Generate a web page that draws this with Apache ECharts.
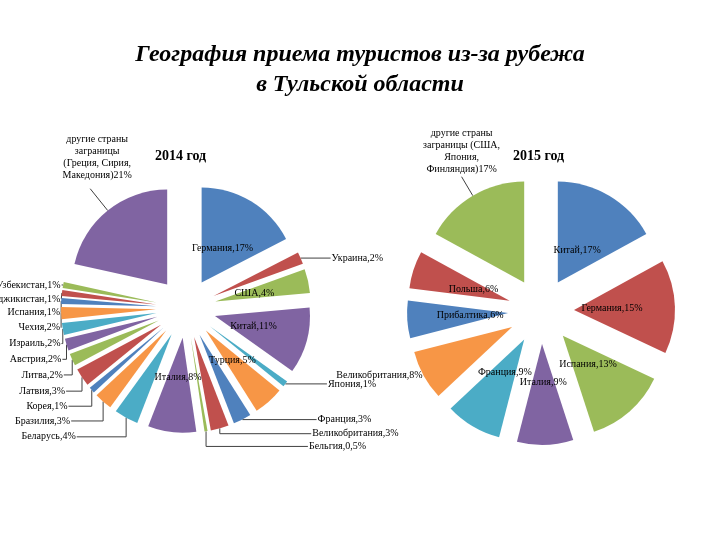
<!DOCTYPE html>
<html><head><meta charset="utf-8">
<script src="https://cdn.jsdelivr.net/npm/echarts@6/dist/echarts.min.js"></script>
<style>html,body{margin:0;padding:0;background:#fff}#c{width:720px;height:540px}</style>
</head><body><div id="c"></div>
<script>
// 2014 data (clockwise from 12 o'clock)
const names2014 = ['Германия','Украина','США','Китай','Япония','Турция','Франция','Великобритания','Бельгия','Италия','Беларусь','Бразилия','Корея','Латвия','Литва','Австрия','Израиль','Чехия','Испания','Таджикистан','Узбекистан','другие страны\nзаграницы\n(Греция, Сирия,\nМакедония)'];
const values2014 = [17, 2, 4, 11, 1, 5, 3, 3, 0.5, 8, 4, 3, 1, 3, 2, 2, 2, 2, 1, 1, 1, 21];
const inside2014 = ['Германия','США','Китай','Турция','Италия'];
// 2015 data
const names2015 = ['Китай','Германия','Испания','Италия','Франция','Великобритания','Прибалтика','Польша','другие страны\nзаграницы (США,\nЯпония,\nФинляндия)'];
const values2015 = [17, 15, 13, 9, 9, 8, 6, 6, 17];
const inside2015 = ['Китай','Германия','Испания','Италия','Франция','Прибалтика','Польша'];

const palette = ['#4F81BD','#C0504D','#9BBB59','#8064A2','#4BACC6','#F79646'];
const serif = '"Liberation Serif","Times New Roman",serif';

function fmt(p){ return p.name + (p.name.endsWith(')') ? '' : ',') + String(p.value).replace('.', ',') + '%'; }

const labelBase = { formatter: fmt, fontFamily: serif, fontSize: 10, color: '#000', lineHeight: 12, overflow: 'none' };

function isOther(n){ return n.endsWith(')'); }

// visible slices with outside labels only
function buildMain(names, values, inside, longLine, otherLen){
  return names.map((n, i) => {
    const inner = inside.includes(n);
    return {
      name: n, value: values[i], selected: true,
      itemStyle: { color: palette[i % palette.length] },
      label: isOther(n) ? { show: true, alignTo: 'none', lineHeight: 12 } : { show: !inner },
      labelLine: isOther(n) ? { show: true, length: otherLen, length2: 0 }
                            : { show: !inner, length2: longLine.includes(n) ? 30 : 0 }
    };
  });
}
// transparent copy used only to place the inside labels nearer to the slice tips
function buildGhost(names, values, inside){
  return names.map((n, i) => ({
    name: n, value: values[i], selected: true,
    itemStyle: { color: 'rgba(0,0,0,0)' },
    label: { show: inside.includes(n) }
  }));
}

function layoutFor(lastIndex, shift){
  return function(p){
    if (p.dataIndex === lastIndex) {
      return { dx: shift[0], dy: shift[1], align: 'center', hideOverlap: false };
    }
    return { hideOverlap: false };
  };
}

const common = {
  type: 'pie', startAngle: 90, clockwise: true, selectedMode: 'multiple',
  animation: false, silent: true,
  select: { itemStyle: { borderWidth: 0 } },
  emphasis: { disabled: true },
  itemStyle: { borderWidth: 0 }
};
function mainSeries(center, radius, offset, names, values, inside, longLine, otherLen, shift){
  return Object.assign({}, common, {
    center: center, radius: radius, selectedOffset: offset,
    label: Object.assign({}, labelBase, { position: 'outer', alignTo: 'labelLine', distanceToLabelLine: 1, lineHeight: 8, margin: -5 }),
    labelLine: { length: 0, length2: 0, lineStyle: { color: '#404040', width: 1 } },
    labelLayout: layoutFor(names.length - 1, shift),
    data: buildMain(names, values, inside, longLine, otherLen)
  });
}
function ghostSeries(center, radius, offset, names, values, inside){
  return Object.assign({}, common, {
    center: center, radius: radius, selectedOffset: offset, z: 3,
    label: Object.assign({ position: 'inside' }, labelBase),
    labelLine: { show: false },
    labelLayout: { hideOverlap: false },
    data: buildGhost(names, values, inside)
  });
}

const chart = echarts.init(document.getElementById('c'), null, {renderer:'canvas'});
chart.setOption({
  backgroundColor: '#fff',
  title: [
    { text: 'География приема туристов из-за рубежа\nв Тульской области', left: 'center', top: 35,
      textStyle: { fontFamily: serif, fontSize: 24, fontWeight: 'bold', fontStyle: 'italic', color: '#000', lineHeight: 30 } },
    { text: '2014 год', left: 150, top: 144, textStyle: { fontFamily: serif, fontSize: 14, fontWeight: 'bold', color: '#000' } },
    { text: '2015 год', left: 508, top: 144, textStyle: { fontFamily: serif, fontSize: 14, fontWeight: 'bold', color: '#000' } }
  ],
  series: [
    mainSeries([186, 308], 95, 30, names2014, values2014, inside2014, ['Украина'], 28, [8, -31]),
    ghostSeries([186, 308], 74, 30, names2014, values2014, inside2014),
    mainSeries([541, 311], 101, 33, names2015, values2015, inside2015, [], 22, [1, -25]),
    ghostSeries([541, 311], 70, 33, names2015, values2015, inside2015)
  ]
});
</script></body></html>
